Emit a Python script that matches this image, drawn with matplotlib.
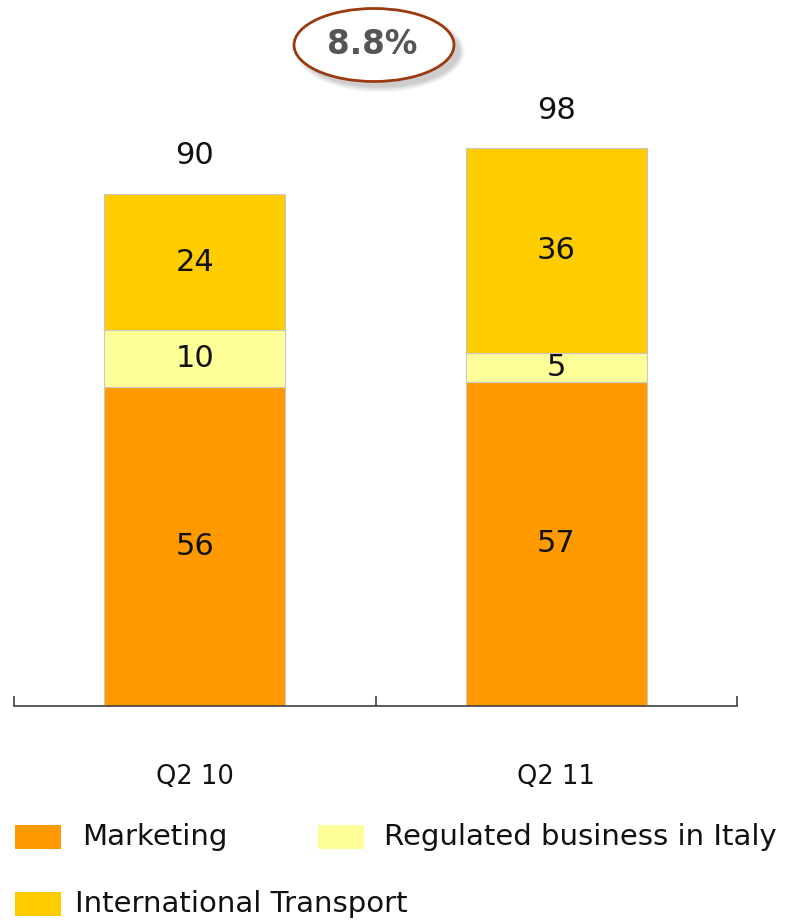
import matplotlib
matplotlib.use("Agg")
import matplotlib.pyplot as plt
from matplotlib.patches import Ellipse, Rectangle

plt.rcParams['font.family'] = ['DejaVu Sans']

categories = ["Q2 10", "Q2 11"]
series_names = ["Marketing", "Regulated business in Italy", "International Transport"]
marketing = [56, 57]
regulated = [10, 5]
international = [24, 36]
totals = [90, 98]
growth_label = "8.8%"

colors = ["#FF9900", "#FFFF99", "#FFCC00"]

W, H = 785, 923
fig = plt.figure(figsize=(W / 100, H / 100), dpi=100)


def fx(px):
    return px / W


def fy(py):
    return 1 - py / H


# axes: baseline at y=706 px, spanning x 14..737 px
base_px = 706
px_per_unit = 5.69
ax = fig.add_axes([fx(14), fy(base_px), fx(737) - fx(14), base_px / H])
ax.set_xlim(-0.5, 1.5)
ax.set_ylim(0, base_px / px_per_unit)

x = [0, 1]
bottom = [0, 0]
for vals, col in zip([marketing, regulated, international], colors):
    ax.bar(x, vals, width=0.5, bottom=bottom, color=col,
           edgecolor="#C8C8C8", linewidth=0.8, zorder=2)
    for xi, b, v in zip(x, bottom, vals):
        ax.text(xi, b + v / 2, str(v), ha="center", va="center",
                fontsize=22, color="#111111", zorder=3)
    bottom = [b + v for b, v in zip(bottom, vals)]

for xi, t in zip(x, totals):
    ax.annotate(str(t), xy=(xi, t), xytext=(0, 27.5), textcoords="offset points",
                ha="center", va="center", fontsize=22, color="#111111")

for xi, c in zip(x, categories):
    ax.annotate(c, xy=(xi, 0), xycoords=("data", "axes fraction"),
                xytext=(0, -51), textcoords="offset points",
                ha="center", va="center", fontsize=18.5, color="#111111",
                annotation_clip=False)

for s in ["top", "right", "left"]:
    ax.spines[s].set_visible(False)
ax.spines["bottom"].set_color("#404040")
ax.spines["bottom"].set_linewidth(1.2)
ax.set_yticks([])
ax.set_xticks([-0.5, 0.5, 1.5])
ax.set_xticklabels([])
ax.tick_params(axis="x", direction="in", length=7, width=1.2, color="#404040")

# growth bubble with soft shadow
cx, cy, ew, eh = 374, 45, 160, 73
for i, a in enumerate([0.05, 0.07, 0.09, 0.11, 0.13]):
    grow = 10 - 2.5 * i
    fig.patches.append(Ellipse((fx(cx + 6), fy(cy + 6)), fx(ew + grow), (eh + grow) / H,
                               transform=fig.transFigure, facecolor="#808080",
                               edgecolor="none", alpha=a, zorder=1))
fig.patches.append(Ellipse((fx(cx), fy(cy)), fx(ew), eh / H, transform=fig.transFigure,
                           facecolor="white", edgecolor="#9A3A0E", linewidth=2, zorder=2))
fig.text(fx(cx - 2), fy(cy), growth_label, ha="center", va="center", fontsize=23.5,
         fontweight="bold", color="#555555", zorder=3)

# legend
legend_items = [
    (series_names[0], colors[0], 15, 837, 82),
    (series_names[1], colors[1], 318, 837, 384),
    (series_names[2], colors[2], 15, 904, 75),
]
for name, col, sx, sy, tx in legend_items:
    fig.patches.append(Rectangle((fx(sx), fy(sy + 12)), fx(46), 24 / H,
                                 transform=fig.transFigure, facecolor=col,
                                 edgecolor="none"))
    fig.text(fx(tx), fy(sy), name, ha="left", va="center", fontsize=21, color="#111111")

fig.savefig("out.png", dpi=100)
